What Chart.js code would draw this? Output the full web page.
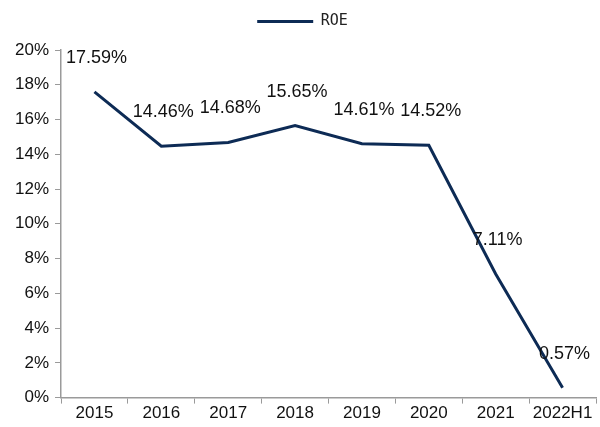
<!DOCTYPE html>
<html>
<head>
<meta charset="utf-8">
<script src="https://cdn.jsdelivr.net/npm/chart.js@4"></script>
<style>
  html, body { margin: 0; padding: 0; background: #fff; }
  #wrap { width: 600px; height: 427px; }
</style>
</head>
<body>
<div id="wrap"><canvas id="roeChart"></canvas></div>
<script>
// chart data
const years = ['2015', '2016', '2017', '2018', '2019', '2020', '2021', '2022H1'];
const roe = [17.59, 14.46, 14.68, 15.65, 14.61, 14.52, 7.11, 0.57];
const yTicks = [0, 2, 4, 6, 8, 10, 12, 14, 16, 18, 20];

const navy = '#0d2b55';
const axisGray = '#9a9a9a';

// draws the value labels above each point
const valueLabels = {
  id: 'valueLabels',
  afterDatasetsDraw(chart) {
    const ctx = chart.ctx;
    const meta = chart.getDatasetMeta(0);
    ctx.save();
    ctx.font = '18px "Liberation Sans", Arial, sans-serif';
    ctx.fillStyle = '#111';
    ctx.textAlign = 'center';
    ctx.textBaseline = 'middle';
    meta.data.forEach((pt, i) => {
      ctx.fillText(roe[i].toFixed(2) + '%', pt.x + 2, pt.y - 34);
    });
    ctx.restore();
  }
};

// a bit more room under the legend
const legendGap = {
  id: 'legendGap',
  beforeInit(chart) {
    const fit = chart.legend.fit;
    chart.legend.fit = function () {
      fit.bind(chart.legend)();
      this.height += 11;
    };
  }
};

const ctx = document.getElementById('roeChart').getContext('2d');
new Chart(ctx, {
  type: 'line',
  data: {
    labels: years,
    datasets: [{
      label: 'ROE',
      data: roe,
      borderColor: navy,
      backgroundColor: navy,
      borderWidth: 3,
      pointRadius: 0,
      tension: 0
    }]
  },
  options: {
    responsive: true,
    maintainAspectRatio: false,
    animation: false,
    layout: { padding: { top: 4, right: 4, left: 9, bottom: 3 } },
    plugins: {
      legend: {
        position: 'top',
        labels: {
          usePointStyle: true,
          pointStyle: 'line',
          pointStyleWidth: 56,
          boxHeight: 14,
          color: '#222',
          font: { family: '"DejaVu Sans Mono", monospace', size: 15 },
          padding: 10
        }
      },
      tooltip: { enabled: false }
    },
    scales: {
      x: {
        offset: true,
        grid: { offset: true, drawOnChartArea: false, tickLength: 6, color: axisGray },
        border: { color: axisGray, width: 1.5 },
        ticks: {
          color: '#111',
          font: { family: '"Liberation Sans", Arial, sans-serif', size: 17 },
          padding: 0,
          maxRotation: 0,
          autoSkip: false
        }
      },
      y: {
        min: 0,
        max: 20,
        afterBuildTicks(scale) {
          scale.ticks = yTicks.map(v => ({ value: v }));
        },
        grid: { drawOnChartArea: false, tickLength: 6, color: axisGray },
        border: { color: axisGray, width: 1.5 },
        ticks: {
          color: '#111',
          font: { family: '"Liberation Sans", Arial, sans-serif', size: 17 },
          padding: 6,
          callback: v => v + '%'
        }
      }
    }
  },
  plugins: [valueLabels, legendGap]
});
</script>
</body>
</html>
